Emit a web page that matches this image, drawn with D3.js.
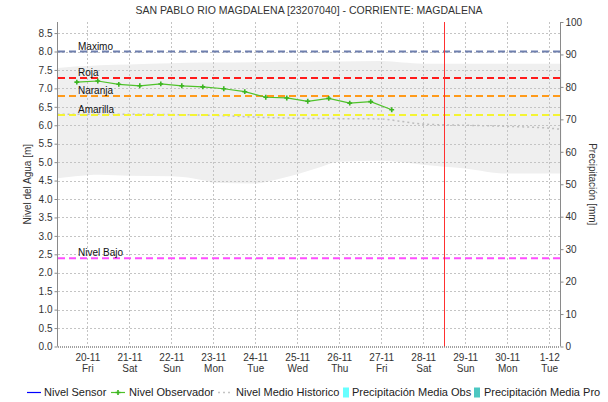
<!DOCTYPE html>
<html>
<head>
<meta charset="utf-8">
<script src="https://cdn.jsdelivr.net/npm/d3@7"></script>
<style>
  html, body { margin: 0; padding: 0; background: #ffffff; }
  svg { display: block; font-family: "Liberation Sans", Arial, sans-serif; }
</style>
</head>
<body>
<svg id="chart" width="608" height="402"></svg>
<script>
// Station level readings (m) taken by the observer, twice per day
const obsTimes = [
  "2020-11-19T18:00", "2020-11-20T06:00", "2020-11-20T18:00", "2020-11-21T06:00",
  "2020-11-21T18:00", "2020-11-22T06:00", "2020-11-22T18:00", "2020-11-23T06:00",
  "2020-11-23T18:00", "2020-11-24T06:00", "2020-11-24T18:00", "2020-11-25T06:00",
  "2020-11-25T18:00", "2020-11-26T06:00", "2020-11-26T18:00", "2020-11-27T06:00"
];
const obsLevels = [7.17, 7.20, 7.11, 7.07, 7.12, 7.07, 7.04, 6.99, 6.91, 6.76, 6.74, 6.65, 6.73, 6.60, 6.64, 6.42];

// Historical mean level (m)
const histTimes = [
  "2020-11-19T07:00", "2020-11-20T00:00", "2020-11-21T00:00", "2020-11-22T00:00",
  "2020-11-23T00:00", "2020-11-24T00:00", "2020-11-25T00:00", "2020-11-26T00:00",
  "2020-11-27T00:00", "2020-11-27T12:00", "2020-11-28T00:00", "2020-11-29T00:00",
  "2020-11-30T00:00", "2020-12-01T00:00", "2020-12-01T07:00"
];
const histMean = [6.30, 6.30, 6.30, 6.29, 6.27, 6.22, 6.19, 6.18, 6.17, 6.10, 6.03, 6.00, 5.97, 5.92, 5.89];

// Historical envelope (m): upper and lower limits
const bandTimes = [
  "2020-11-19T07:00", "2020-11-19T17:00", "2020-11-20T07:00", "2020-11-21T00:00",
  "2020-11-22T00:00", "2020-11-22T19:00", "2020-11-23T00:00", "2020-11-24T00:00",
  "2020-11-24T14:00", "2020-11-25T00:00", "2020-11-25T12:00", "2020-11-26T00:00",
  "2020-11-27T00:00", "2020-11-27T12:00", "2020-11-28T00:00", "2020-11-29T00:00",
  "2020-11-30T00:00", "2020-12-01T07:00"
];
const bandUpper = [7.55, 7.59, 7.63, 7.65, 7.68, 7.70, 7.70, 7.71, 7.72, 7.72, 7.73, 7.73, 7.74, 7.70, 7.67, 7.67, 7.67, 7.67];
const bandLower = [4.56, 4.62, 4.66, 4.63, 4.62, 4.50, 4.44, 4.42, 4.55, 4.67, 4.85, 5.01, 5.04, 5.00, 4.93, 4.83, 4.69, 4.69];

// Alert thresholds (m)
const thresholdNames  = ["Maximo", "Roja", "Naranja", "Amarilla", "Nivel Bajo"];
const thresholdValues = [8.0, 7.28, 6.79, 6.28, 2.39];
const thresholdColors = ["#6e7fae", "#ff1a1a", "#ff9a1a", "#f4f433", "#ff4dff"];

// Current time marker
const nowTime = "2020-11-28T11:45";

// Axis ticks
const dayTicks = [
  "2020-11-20", "2020-11-21", "2020-11-22", "2020-11-23", "2020-11-24", "2020-11-25",
  "2020-11-26", "2020-11-27", "2020-11-28", "2020-11-29", "2020-11-30", "2020-12-01"
];
const levelTicks = [0.0, 0.5, 1.0, 1.5, 2.0, 2.5, 3.0, 3.5, 4.0, 4.5, 5.0, 5.5, 6.0, 6.5, 7.0, 7.5, 8.0, 8.5];
const precipTicks = [0, 10, 20, 30, 40, 50, 60, 70, 80, 90, 100];

const parse = s => new Date(s + (s.length === 10 ? "T00:00:00Z" : ":00Z"));

const svg = d3.select("#chart");
const plot = { left: 58, right: 560, top: 22, bottom: 346.5 };

const x = d3.scaleUtc()
  .domain([parse("2020-11-19T07:15"), parse("2020-12-01T06:10")])
  .range([plot.left, plot.right]);
const y = d3.scaleLinear().domain([0, 8.8]).range([plot.bottom, plot.top]);
const yR = d3.scaleLinear().domain([0, 100]).range([plot.bottom, plot.top]);

// Historical envelope
const band = bandTimes.map((t, i) => ({ t: parse(t), hi: bandUpper[i], lo: bandLower[i] }));
svg.append("path")
  .datum(band)
  .attr("fill", "#efefef")
  .attr("d", d3.area().x(d => x(d.t)).y0(d => y(d.lo)).y1(d => y(d.hi)).curve(d3.curveMonotoneX));

// Grid
const grid = svg.append("g").attr("stroke", "#c4c4c4").attr("stroke-dasharray", "2,2").attr("stroke-width", 1);
levelTicks.filter(v => v > 0).forEach(v => {
  const yy = Math.round(y(v)) + 0.5;
  grid.append("line").attr("x1", plot.left).attr("x2", plot.right).attr("y1", yy).attr("y2", yy);
});
dayTicks.forEach(t => {
  const xx = Math.round(x(parse(t))) + 0.5;
  grid.append("line").attr("x1", xx).attr("x2", xx).attr("y1", plot.top).attr("y2", plot.bottom);
});

// Historical mean
const hist = histTimes.map((t, i) => ({ t: parse(t), v: histMean[i] }));
svg.append("path")
  .datum(hist)
  .attr("fill", "none")
  .attr("stroke", "#bdbdbd")
  .attr("stroke-width", 1.5)
  .attr("stroke-dasharray", "2,3")
  .attr("d", d3.line().x(d => x(d.t)).y(d => y(d.v)).curve(d3.curveMonotoneX));

// Threshold lines and labels
thresholdValues.forEach((v, i) => {
  const yy = y(v);
  svg.append("line")
    .attr("x1", plot.left).attr("x2", plot.right)
    .attr("y1", yy).attr("y2", yy)
    .attr("stroke", thresholdColors[i])
    .attr("stroke-width", 2)
    .attr("stroke-dasharray", "7,4");
  svg.append("text")
    .attr("x", plot.left + 20).attr("y", yy - 2)
    .attr("font-size", 10).attr("fill", "#111")
    .text(thresholdNames[i]);
});

// Observed level
const obs = obsTimes.map((t, i) => ({ t: parse(t), v: obsLevels[i] }));
svg.append("path")
  .datum(obs)
  .attr("fill", "none")
  .attr("stroke", "#4fc22a")
  .attr("stroke-width", 1.2)
  .attr("d", d3.line().x(d => x(d.t)).y(d => y(d.v)));
svg.append("g").selectAll("path")
  .data(obs).join("path")
  .attr("transform", d => `translate(${x(d.t)},${y(d.v)})`)
  .attr("fill", "#3cb521")
  .attr("d", d3.symbol(d3.symbolCross, 13));

// Current time marker
const nx = Math.round(x(parse(nowTime))) + 0.5;
svg.append("line")
  .attr("x1", nx).attr("x2", nx).attr("y1", plot.top).attr("y2", plot.bottom)
  .attr("stroke", "#ff3030").attr("stroke-width", 1);

// Left axis
const axisColor = "#8a8a8a";
const left = svg.append("g").attr("transform", `translate(${plot.left - 0.5},0)`)
  .call(d3.axisLeft(y).tickValues(levelTicks).tickFormat(d3.format(".1f")).tickSize(3).tickPadding(2));
left.select(".domain").attr("stroke", axisColor).attr("d", `M0,${plot.top}V${plot.bottom}`);
left.selectAll(".tick line").attr("stroke", axisColor);
left.selectAll(".tick text").attr("font-size", 10).attr("fill", "#333").attr("font-family", "Liberation Sans, Arial, sans-serif");

// Right axis
const right = svg.append("g").attr("transform", `translate(${plot.right + 0.5},0)`)
  .call(d3.axisRight(yR).tickValues(precipTicks).tickSize(3).tickPadding(2));
right.select(".domain").attr("stroke", axisColor).attr("d", `M0,${plot.top}V${plot.bottom}`);
right.selectAll(".tick line").attr("stroke", axisColor);
right.selectAll(".tick text").attr("font-size", 10).attr("fill", "#333").attr("font-family", "Liberation Sans, Arial, sans-serif");

// Bottom axis
const bottom = svg.append("g").attr("transform", `translate(0,${plot.bottom})`)
  .call(d3.axisBottom(x).tickValues(dayTicks.map(parse)).tickSize(0).tickFormat(""));
bottom.select(".domain").attr("stroke", "#444").attr("stroke-dasharray", "1,1")
  .attr("d", `M${plot.left},0.5H${plot.right}`);
const fmtDay = d3.utcFormat("%-d-%m");
const fmtWeek = d3.utcFormat("%a");
bottom.selectAll(".tick").each(function(d) {
  const g = d3.select(this);
  g.select("text").remove();
  g.append("text").attr("y", 14).attr("text-anchor", "middle")
    .attr("font-size", 10).attr("fill", "#333").text(fmtDay(d));
  g.append("text").attr("y", 25).attr("text-anchor", "middle")
    .attr("font-size", 10).attr("fill", "#333").text(fmtWeek(d));
});

// Title
svg.append("text")
  .attr("x", 309).attr("y", 14)
  .attr("text-anchor", "middle")
  .attr("font-size", 10.5).attr("fill", "#333")
  .text("SAN PABLO RIO MAGDALENA [23207040] - CORRIENTE: MAGDALENA");

// Axis titles
svg.append("text")
  .attr("transform", `translate(31,${(plot.top + plot.bottom) / 2}) rotate(-90)`)
  .attr("text-anchor", "middle")
  .attr("font-size", 10).attr("fill", "#333")
  .text("Nivel del Agua [m]");
svg.append("text")
  .attr("transform", `translate(589,${(plot.top + plot.bottom) / 2}) rotate(90)`)
  .attr("text-anchor", "middle")
  .attr("font-size", 10).attr("fill", "#333")
  .text("Precipitación [mm]");

// Legend
const legend = svg.append("g").attr("font-size", 11).attr("fill", "#222");
const ly = 392;
legend.append("line").attr("x1", 27).attr("x2", 41).attr("y1", ly + 0.5).attr("y2", ly + 0.5)
  .attr("stroke", "#0000ff").attr("stroke-width", 1.2);
legend.append("text").attr("x", 44).attr("y", ly + 4).text("Nivel Sensor");

legend.append("line").attr("x1", 111).attr("x2", 125).attr("y1", ly + 0.5).attr("y2", ly + 0.5)
  .attr("stroke", "#4fc22a").attr("stroke-width", 1.2);
legend.append("path").attr("transform", `translate(118,${ly + 0.5})`).attr("fill", "#3cb521")
  .attr("d", d3.symbol(d3.symbolCross, 13));
legend.append("text").attr("x", 129).attr("y", ly + 4).text("Nivel Observador");

legend.append("line").attr("x1", 218).attr("x2", 232).attr("y1", ly + 0.5).attr("y2", ly + 0.5)
  .attr("stroke", "#c4c4c4").attr("stroke-width", 1.5).attr("stroke-dasharray", "2,3");
legend.append("text").attr("x", 236).attr("y", ly + 4).text("Nivel Medio Historico");

legend.append("rect").attr("x", 343).attr("y", ly - 4.5).attr("width", 6).attr("height", 10).attr("fill", "#66ffff");
legend.append("text").attr("x", 352).attr("y", ly + 4).text("Precipitación Media Obs");

legend.append("rect").attr("x", 474).attr("y", ly - 4.5).attr("width", 6).attr("height", 10).attr("fill", "#4cc7c2");
legend.append("text").attr("x", 484).attr("y", ly + 4).text("Precipitación Media Pro");
</script>
</body>
</html>
